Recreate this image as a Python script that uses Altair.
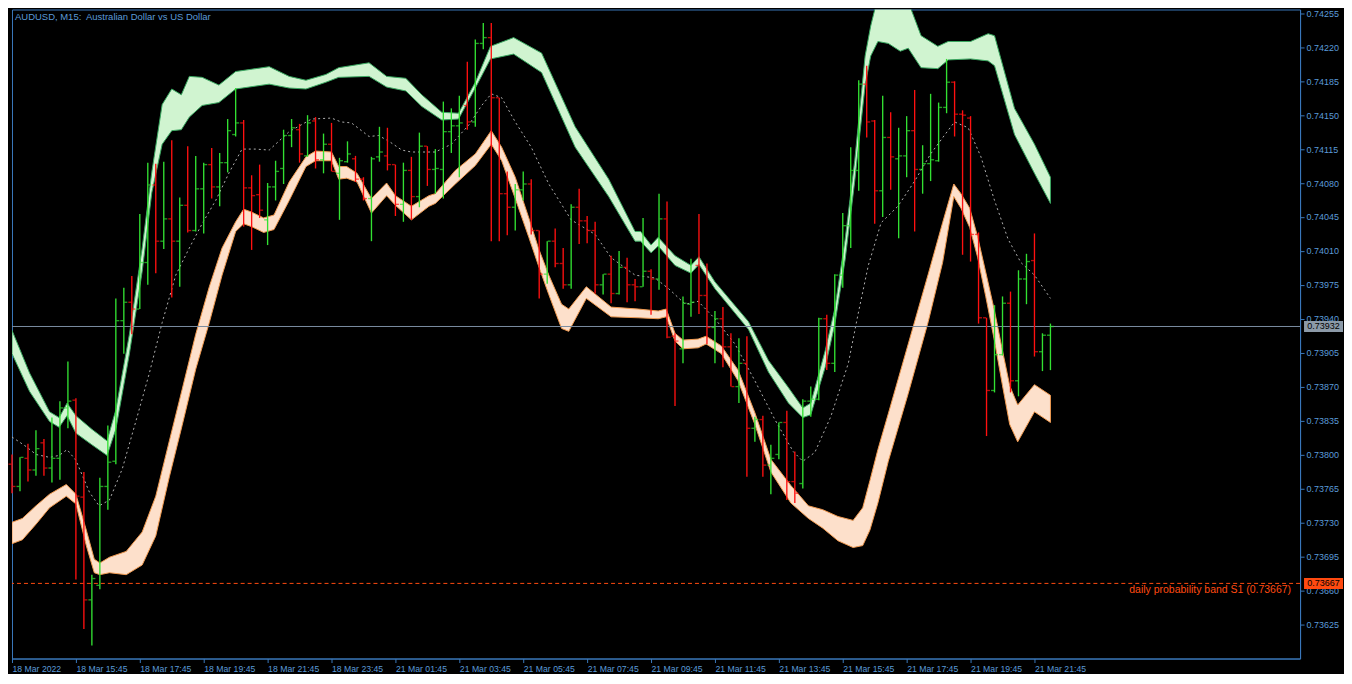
import altair as alt
import pandas as pd

# ---------------- data ----------------
opens = [0.73790,0.73767,0.73796,0.73784,0.73812,0.73786,0.73796,0.73848,0.73856,0.73756,
         0.73650,0.73665,0.73767,0.73793,0.73938,0.73957,0.73950,0.73998,0.74078,0.74020,
         0.74043,0.74020,0.74057,0.74031,0.74074,0.74099,0.74076,0.74101,0.74130,0.74142,
         0.74075,0.74068,0.74042,0.74076,0.74095,0.74129,0.74135,0.74108,0.74144,0.74104,
         0.74120,0.74090,0.74102,0.74105,0.74084,0.74064,0.74107,0.74108,0.74099,0.74058,
         0.74093,0.74066,0.74118,0.74094,0.74094,0.74133,0.74139,0.74160,0.74143,0.74224,
         0.74230,0.74168,0.74069,0.74055,0.74073,0.74079,0.74031,0.73986,0.74020,0.73997,
         0.73975,0.74055,0.74041,0.74031,0.73975,0.73986,0.73966,0.73993,0.73975,0.73973,
         0.73989,0.73981,0.74043,0.73922,0.73909,0.73955,0.73995,0.73964,0.73931,0.73940,
         0.73911,0.73870,0.73894,0.73827,0.73836,0.73789,0.73800,0.73833,0.73772,0.73770,
         0.73855,0.73857,0.73940,0.73894,0.73985,0.74036,0.74093,0.74182,0.74144,0.74072,
         0.74127,0.74105,0.74108,0.74134,0.74094,0.74100,0.74103,0.74158,0.74184,0.74151,
         0.74147,0.74027,0.73941,0.73866,0.73903,0.73956,0.73876,0.73981,0.74000,0.73906,
         0.73923]
highs = [0.73800,0.73797,0.73811,0.73825,0.73816,0.73838,0.73855,0.73896,0.73858,0.73782,
         0.73676,0.73776,0.73830,0.73961,0.73972,0.73984,0.74048,0.74101,0.74100,0.74102,
         0.74124,0.74065,0.74118,0.74108,0.74101,0.74116,0.74111,0.74146,0.74178,0.74145,
         0.74088,0.74099,0.74080,0.74103,0.74135,0.74146,0.74141,0.74150,0.74148,0.74131,
         0.74142,0.74106,0.74123,0.74108,0.74086,0.74107,0.74138,0.74137,0.74099,0.74101,
         0.74107,0.74132,0.74118,0.74115,0.74164,0.74157,0.74170,0.74205,0.74228,0.74245,
         0.74245,0.74168,0.74092,0.74079,0.74092,0.74084,0.74031,0.74020,0.74033,0.74013,
         0.74058,0.74074,0.74046,0.74040,0.73986,0.74005,0.74010,0.74003,0.73981,0.74044,
         0.73991,0.74069,0.74061,0.73925,0.73963,0.74002,0.74048,0.73997,0.73948,0.73952,
         0.73925,0.73920,0.73922,0.73839,0.73840,0.73810,0.73833,0.73845,0.73803,0.73857,
         0.73870,0.73941,0.73944,0.73986,0.74049,0.74117,0.74186,0.74201,0.74145,0.74170,
         0.74153,0.74137,0.74149,0.74176,0.74119,0.74172,0.74163,0.74208,0.74185,0.74155,
         0.74149,0.74029,0.73941,0.73954,0.73963,0.73968,0.73990,0.74007,0.74028,0.73925,
         0.73935]
lows = [0.73760,0.73762,0.73772,0.73778,0.73778,0.73771,0.73774,0.73827,0.73671,0.73620,
        0.73603,0.73661,0.73743,0.73790,0.73904,0.73924,0.73950,0.73975,0.73987,0.74012,
        0.73962,0.73973,0.74029,0.74030,0.74028,0.74064,0.74056,0.74091,0.74128,0.74035,
        0.74011,0.74044,0.74016,0.74062,0.74079,0.74117,0.74101,0.74107,0.74095,0.74090,
        0.74092,0.74042,0.74101,0.74081,0.74062,0.74020,0.74102,0.74093,0.74046,0.74040,
        0.74042,0.74055,0.74077,0.74069,0.74064,0.74111,0.74086,0.74135,0.74138,0.74218,
        0.74020,0.74020,0.74026,0.74031,0.74062,0.74027,0.73961,0.73976,0.73993,0.73971,
        0.73971,0.74017,0.74018,0.73966,0.73965,0.73956,0.73965,0.73957,0.73958,0.73973,
        0.73944,0.73970,0.73920,0.73850,0.73894,0.73942,0.73945,0.73914,0.73894,0.73890,
        0.73870,0.73853,0.73777,0.73813,0.73777,0.73759,0.73795,0.73753,0.73750,0.73765,
        0.73839,0.73856,0.73887,0.73885,0.73972,0.74013,0.74072,0.74127,0.74038,0.74045,
        0.74073,0.74023,0.74086,0.74030,0.74069,0.74082,0.74102,0.74152,0.74128,0.74006,
        0.73999,0.73935,0.73819,0.73864,0.73902,0.73864,0.73860,0.73955,0.73901,0.73886,
        0.73887]
closes = [0.73767,0.73797,0.73784,0.73806,0.73786,0.73796,0.73848,0.73855,0.73757,0.73650,
          0.73672,0.73767,0.73792,0.73938,0.73957,0.73950,0.73998,0.74078,0.74020,0.74043,
          0.74020,0.74057,0.74031,0.74074,0.74099,0.74076,0.74101,0.74134,0.74142,0.74075,
          0.74067,0.74052,0.74076,0.74092,0.74129,0.74137,0.74110,0.74142,0.74104,0.74120,
          0.74092,0.74103,0.74110,0.74084,0.74064,0.74105,0.74112,0.74099,0.74058,0.74093,
          0.74066,0.74118,0.74094,0.74095,0.74133,0.74139,0.74142,0.74143,0.74224,0.74230,
          0.74168,0.74069,0.74055,0.74073,0.74079,0.74031,0.73986,0.74020,0.73997,0.73975,
          0.74055,0.74041,0.74031,0.73975,0.73986,0.73966,0.73993,0.73975,0.73973,0.73989,
          0.73981,0.74043,0.73921,0.73917,0.73956,0.73957,0.73964,0.73931,0.73940,0.73911,
          0.73870,0.73894,0.73827,0.73836,0.73789,0.73796,0.73833,0.73772,0.73760,0.73855,
          0.73857,0.73940,0.73894,0.73985,0.74036,0.74093,0.74182,0.74143,0.74072,0.74127,
          0.74107,0.74108,0.74134,0.74094,0.74100,0.74104,0.74158,0.74184,0.74151,0.74150,
          0.74027,0.73941,0.73866,0.73903,0.73956,0.73876,0.73981,0.73999,0.73906,0.73923,
          0.73932]

# upper (green) probability band
up_x = [0, 2.2, 4.7, 5.9, 6.9, 8.0, 10.0, 11.9, 13.0, 14.7, 16.3, 17.5, 18.8, 20.0, 21.2, 22.2,
        23.8, 25.9, 28.0, 32.2, 34.7, 36.8, 39.3, 40.9, 44.7, 46.9, 49.3, 51.3, 53.8, 55.9, 58.0,
        59.9, 62.8, 66.3, 70.5, 74.7, 78.0, 78.7, 80.0, 80.9, 83.0, 85.0, 86.0, 88.0, 92.2, 94.7,
        97.2, 99.0, 100.0, 101.8, 103.0, 104.3, 105.5, 106.8, 107.5, 108.4, 109.7, 111.2, 112.2,
        113.8, 115.9, 117.2, 120.0, 122.2, 123.0, 125.5, 128.0, 130.0]
up_top = [0.73928,0.73884,0.73844,0.73838,0.73853,0.73840,0.73826,0.73814,0.73846,0.73924,0.74013,
          0.74091,0.74161,0.74177,0.74171,0.74190,0.74189,0.74181,0.74195,0.74200,0.74190,0.74186,
          0.74192,0.74199,0.74204,0.74190,0.74188,0.74171,0.74153,0.74152,0.74184,0.74221,0.74230,
          0.74214,0.74138,0.74084,0.74030,0.74030,0.74016,0.74024,0.74005,0.73995,0.74004,0.73978,
          0.73937,0.73897,0.73869,0.73848,0.73853,0.73907,0.73950,0.74022,0.74103,0.74211,0.74242,
          0.74272,0.74277,0.74272,0.74267,0.74232,0.74221,0.74226,0.74226,0.74234,0.74232,0.74157,
          0.74120,0.74086]
up_bot = [0.73904,0.73865,0.73834,0.73828,0.73840,0.73822,0.73810,0.73799,0.73826,0.73904,0.73989,
          0.74070,0.74120,0.74134,0.74135,0.74148,0.74160,0.74163,0.74177,0.74182,0.74178,0.74177,
          0.74184,0.74189,0.74190,0.74179,0.74175,0.74159,0.74145,0.74146,0.74178,0.74208,0.74213,
          0.74194,0.74117,0.74066,0.74020,0.74020,0.74008,0.74015,0.73995,0.73987,0.73996,0.73971,
          0.73929,0.73885,0.73853,0.73838,0.73841,0.73890,0.73934,0.74001,0.74082,0.74181,0.74211,
          0.74226,0.74224,0.74216,0.74219,0.74199,0.74198,0.74207,0.74208,0.74206,0.74201,0.74130,
          0.74090,0.74059]

# lower (peach) probability band
lo_x = [0, 1.3, 3.0, 4.7, 6.8, 8.0, 9.3, 10.3, 11.0, 12.2, 14.3, 16.3, 18.0, 19.7, 21.3, 23.0,
        24.7, 26.3, 28.0, 29.0, 30.0, 31.5, 32.8, 34.7, 36.8, 38.0, 40.0, 40.9, 41.9, 43.2, 45.0,
        46.9, 48.0, 50.0, 52.2, 53.0, 55.5, 58.0, 60.0, 61.3, 63.0, 64.7, 65.9, 67.2, 68.8, 69.7,
        71.9, 75.0, 78.4, 80.9, 81.9, 83.0, 84.0, 85.9, 86.9, 88.8, 90.9, 93.0, 95.0, 97.5, 99.7,
        101.5, 103.4, 105.3, 106.5, 107.4, 108.4, 109.7, 112.2, 114.7, 116.5, 117.9, 118.8, 119.9,
        120.9, 121.9, 123.0, 124.0, 124.9, 125.9, 128.0, 130.0]
lo_top = [0.73730,0.73734,0.73747,0.73759,0.73769,0.73759,0.73722,0.73692,0.73688,0.73694,0.73700,
          0.73720,0.73757,0.73814,0.73867,0.73924,0.73973,0.74013,0.74040,0.74053,0.74050,0.74044,
          0.74047,0.74081,0.74107,0.74113,0.74112,0.74097,0.74097,0.74090,0.74064,0.74080,0.74067,
          0.74056,0.74067,0.74069,0.74093,0.74110,0.74134,0.74117,0.74086,0.74044,0.74013,0.73985,
          0.73955,0.73950,0.73973,0.73952,0.73950,0.73948,0.73950,0.73925,0.73918,0.73919,0.73922,
          0.73912,0.73887,0.73843,0.73795,0.73768,0.73747,0.73743,0.73736,0.73732,0.73745,0.73773,
          0.73805,0.73842,0.73914,0.73986,0.74039,0.74079,0.74069,0.74054,0.74024,0.73988,0.73948,
          0.73907,0.73871,0.73851,0.73872,0.73861]
lo_bot = [0.73708,0.73712,0.73728,0.73745,0.73757,0.73749,0.73706,0.73678,0.73676,0.73678,0.73676,
          0.73686,0.73716,0.73777,0.73830,0.73888,0.73936,0.73985,0.74030,0.74038,0.74035,0.74029,
          0.74032,0.74062,0.74097,0.74103,0.74103,0.74084,0.74085,0.74081,0.74049,0.74067,0.74057,
          0.74042,0.74056,0.74059,0.74079,0.74098,0.74120,0.74103,0.74064,0.74024,0.73995,0.73965,
          0.73930,0.73927,0.73961,0.73942,0.73941,0.73940,0.73942,0.73917,0.73909,0.73910,0.73914,
          0.73904,0.73876,0.73831,0.73782,0.73750,0.73734,0.73724,0.73711,0.73704,0.73706,0.73722,
          0.73750,0.73793,0.73863,0.73937,0.73998,0.74066,0.74054,0.74034,0.74003,0.73963,0.73917,
          0.73871,0.73831,0.73813,0.73844,0.73833]

# dashed middle line
mid_x = [0, 1.8, 3.0, 4.7, 5.9, 6.9, 8.0, 9.7, 10.9, 12.2, 13.8, 15.5, 17.2, 18.8, 20.5, 22.2,
         23.8, 25.5, 27.2, 28.8, 30.5, 32.2, 34.7, 37.5, 40.0, 41.2, 42.5, 44.7, 45.9, 47.2, 48.8,
         50.0, 53.0, 55.0, 57.2, 58.8, 60.0, 61.3, 63.0, 65.0, 67.2, 70.0, 73.0, 75.0, 78.0, 80.5,
         82.2, 84.3, 85.9, 88.0, 90.5, 93.0, 95.5, 97.8, 99.0, 100.5, 102.5, 104.7, 105.9, 107.2,
         108.8, 110.9, 113.0, 115.0, 116.8, 118.0, 119.7, 121.3, 123.0, 124.7, 126.3, 128.0, 130.0]
mid_y = [0.73818,0.73808,0.73800,0.73797,0.73799,0.73805,0.73794,0.73761,0.73747,0.73753,0.73785,
         0.73834,0.73884,0.73936,0.73985,0.74013,0.74038,0.74062,0.74091,0.74115,0.74115,0.74114,
         0.74133,0.74146,0.74147,0.74143,0.74142,0.74128,0.74129,0.74123,0.74114,0.74112,0.74112,
         0.74120,0.74140,0.74160,0.74172,0.74168,0.74143,0.74117,0.74079,0.74042,0.74027,0.74003,
         0.73985,0.73982,0.73971,0.73955,0.73958,0.73940,0.73914,0.73876,0.73836,0.73803,0.73793,
         0.73802,0.73839,0.73894,0.73944,0.73995,0.74039,0.74056,0.74082,0.74110,0.74130,0.74143,
         0.74137,0.74107,0.74062,0.74022,0.73998,0.73985,0.73961]

y_ticks = [0.73625,0.73660,0.73695,0.73730,0.73765,0.73800,0.73835,0.73870,0.73905,0.73940,
           0.73975,0.74010,0.74045,0.74080,0.74115,0.74150,0.74185,0.74220,0.74255]
x_tick_bars = [0, 8, 16, 24, 32, 40, 48, 56, 64, 72, 80, 88, 96, 104, 112, 120, 128]
x_tick_labels = ["18 Mar 2022", "18 Mar 15:45", "18 Mar 17:45", "18 Mar 19:45", "18 Mar 21:45",
                 "18 Mar 23:45", "21 Mar 01:45", "21 Mar 03:45", "21 Mar 05:45", "21 Mar 07:45",
                 "21 Mar 09:45", "21 Mar 11:45", "21 Mar 13:45", "21 Mar 15:45", "21 Mar 17:45",
                 "21 Mar 19:45", "21 Mar 21:45"]

title_text = "AUDUSD, M15:\u00a0 Australian Dollar vs US Dollar"
current_price = 0.73932
current_tag = "0.73932"
s1_level = 0.73667
s1_tag = "0.73667"
s1_text = "daily probability band S1 (0.73667)"

# ---------------- styling ----------------
W, H = 1290, 650
BLUE = "#3a78bc"
LBL = "#5b9bd8"
FONT = "Liberation Sans"
GREEN = "#32e032"
RED = "#ff1010"
ORANGE = "#ff4a10"
GREY = "#8c9aa8"
BW = 1.35  # bar stroke width

x_scale = alt.Scale(domain=[0, W / 8], nice=False, zero=False)
y_scale = alt.Scale(domain=[0.735895, 0.742590], nice=False, zero=False)

label_js = "[" + ",".join("'" + s + "'" for s in x_tick_labels) + "]"
x_axis = alt.Axis(orient="bottom", values=x_tick_bars, labelExpr=label_js + "[round(datum.value / 8)]",
                  labelAlign="left", labelBaseline="top", tickSize=4, labelPadding=2,
                  labelFontSize=8.7, labelOverlap=False, labelFlush=False, grid=False, title=None)
y_axis = alt.Axis(orient="right", values=y_ticks, format=".5f", tickSize=4, labelPadding=2,
                  labelFontSize=9, labelOverlap=False, labelFlush=False, grid=False, title=None)

X = lambda f: alt.X(f, type="quantitative", scale=x_scale, axis=x_axis)
Y = lambda f: alt.Y(f, type="quantitative", scale=y_scale, axis=y_axis)

bars = pd.DataFrame({"i": list(range(len(opens))), "o": opens, "h": highs, "l": lows, "c": closes})
bars["dir"] = ["up" if c >= o else "down" for o, c in zip(opens, closes)]
color = alt.Color("dir:N", scale=alt.Scale(domain=["up", "down"], range=[GREEN, RED]), legend=None)

upper = alt.Chart(pd.DataFrame({"x": up_x, "t": up_top, "b": up_bot})).mark_area(
    color="#d0f4d0", stroke="#3aa860", strokeWidth=1, clip=True
).encode(x=X("x"), y=Y("t"), y2="b")

lower = alt.Chart(pd.DataFrame({"x": lo_x, "t": lo_top, "b": lo_bot})).mark_area(
    color="#fde0cb", stroke="#f09a50", strokeWidth=1, clip=True
).encode(x=X("x"), y=Y("t"), y2="b")

mid = alt.Chart(pd.DataFrame({"x": mid_x, "y": mid_y})).mark_line(
    color="#b0b0b0", strokeWidth=1, strokeDash=[2, 3]
).encode(x=X("x"), y=Y("y"))

s1_rule = alt.Chart(pd.DataFrame({"p": [s1_level]})).mark_rule(
    color=ORANGE, strokeWidth=1, strokeDash=[4, 3]
).encode(y=Y("p"))

cur_rule = alt.Chart(pd.DataFrame({"p": [current_price]})).mark_rule(
    color="#7a8ca0", strokeWidth=1
).encode(y=Y("p"))

base = alt.Chart(bars)
hl = base.mark_rule(strokeWidth=BW).encode(x=X("i"), y=Y("l"), y2="h", color=color)
ot = base.mark_tick(orient="horizontal", size=3, thickness=BW, xOffset=-2).encode(x=X("i"), y=Y("o"), color=color)
ct = base.mark_tick(orient="horizontal", size=3, thickness=BW, xOffset=2).encode(x=X("i"), y=Y("c"), color=color)

title = alt.Chart(pd.DataFrame({"t": [title_text]})).mark_text(
    align="left", baseline="middle", font=FONT, fontSize=9.5, color=LBL
).encode(x=alt.value(3), y=alt.value(8), text="t:N")

s1_label = alt.Chart(pd.DataFrame({"p": [s1_level], "t": [s1_text]})).mark_text(
    align="right", baseline="middle", font=FONT, fontSize=10.5, color=ORANGE, dy=7
).encode(x=alt.value(W - 9), y=Y("p"), text="t:N")

BOX = "M-3.55,-1L3.55,-1L3.55,1L-3.55,1Z"


def tag(price, label, fill):
    d = pd.DataFrame({"p": [price], "t": [label]})
    box = alt.Chart(d).mark_point(shape=BOX, filled=True, size=121, opacity=1, strokeWidth=0,
                                  color=fill).encode(x=alt.value(W + 23.5), y=Y("p"))
    txt = alt.Chart(d).mark_text(align="center", baseline="middle", font=FONT, fontSize=9,
                                 color="#000000").encode(x=alt.value(W + 23.5), y=Y("p"), text="t:N")
    return [box, txt]


layers = [upper, lower, mid, s1_rule, cur_rule, hl, ot, ct, title, s1_label]
layers += tag(current_price, current_tag, GREY) + tag(s1_level, s1_tag, ORANGE)

chart = alt.layer(*layers).properties(
    width=W, height=H, background="#000000", padding=0
).configure_view(stroke=BLUE, strokeWidth=1).configure_axis(
    domainColor=BLUE, tickColor=BLUE, labelColor=LBL, labelFont=FONT, domainWidth=1, tickWidth=1
)

chart.save("out.html", embed_options={"renderer": "svg", "actions": False})
